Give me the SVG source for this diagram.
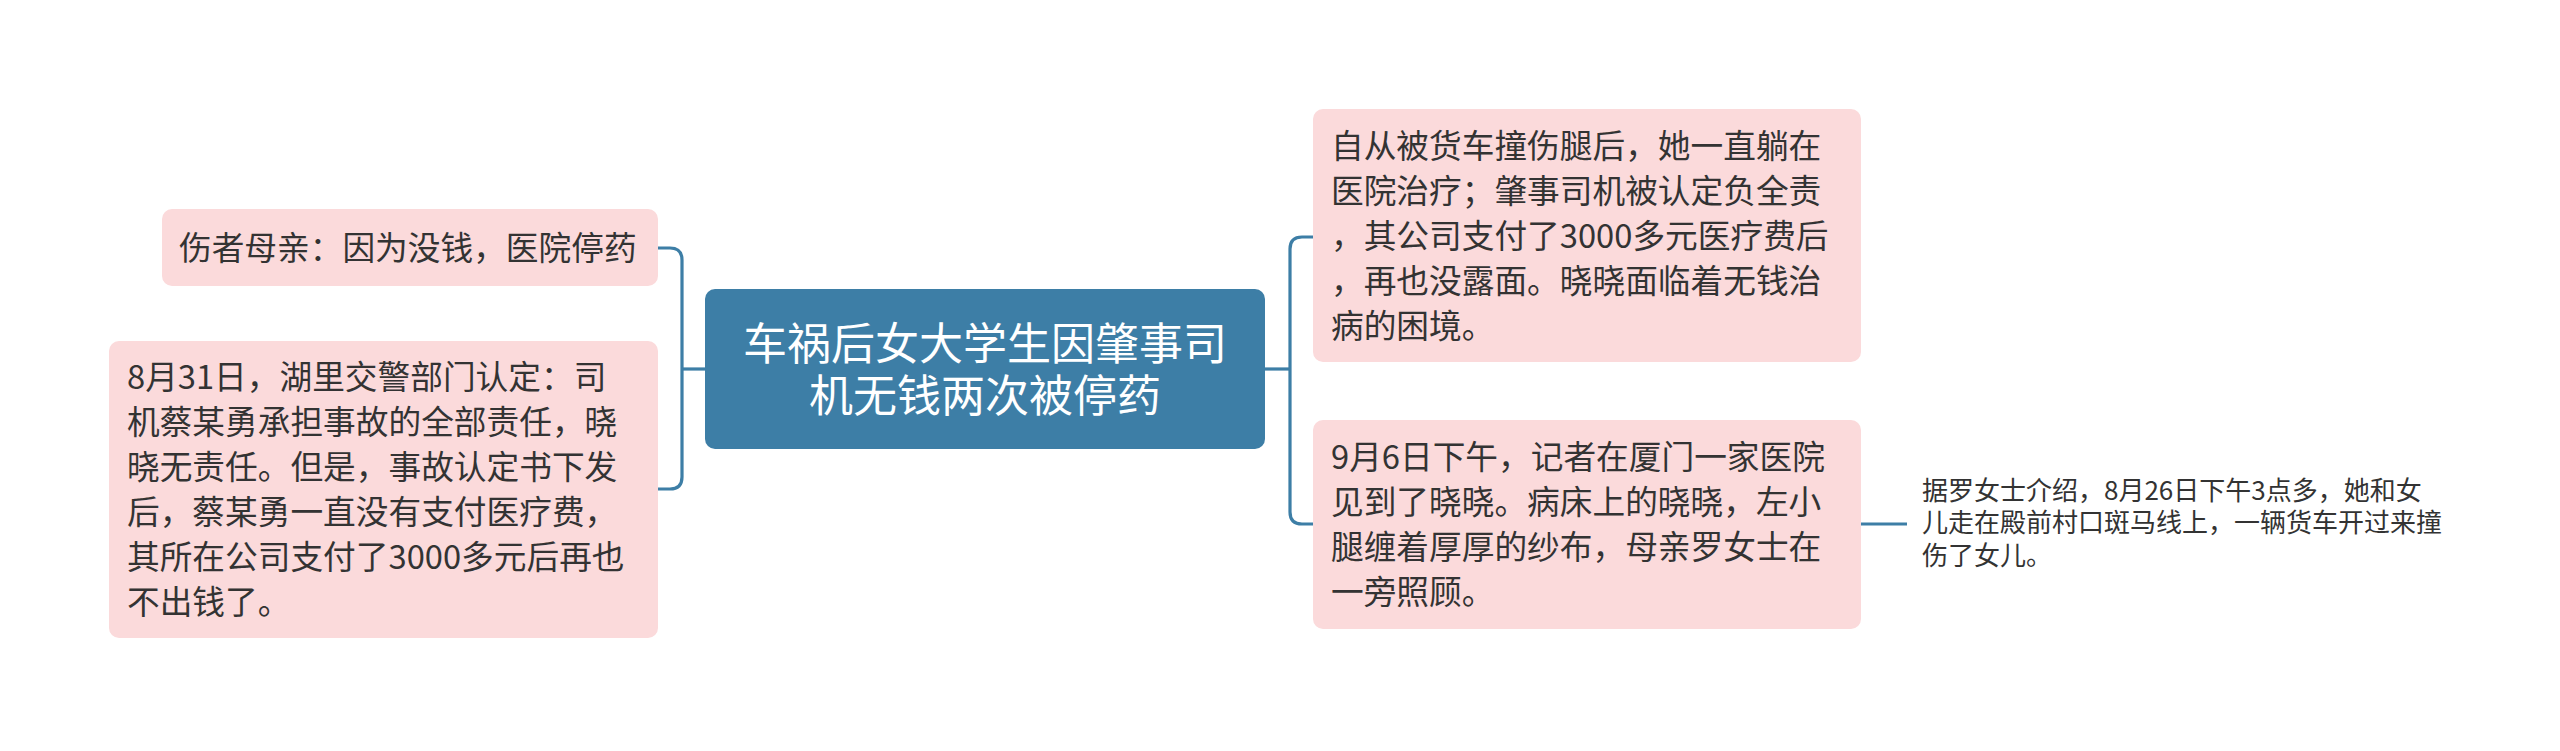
<svg xmlns="http://www.w3.org/2000/svg" width="2560" height="751" viewBox="0 0 2560 751">
<style>
.pink{fill:#FBDADB;}
.root{fill:#3D7EA6;}
.t{font-family:"Noto Sans CJK SC","Noto Sans",sans-serif;font-size:32.7px;fill:#333333;}
.rt{font-family:"Noto Sans CJK SC","Noto Sans",sans-serif;font-size:44px;fill:#FFFFFF;text-anchor:middle;}
.lt{font-family:"Noto Sans CJK SC","Noto Sans",sans-serif;font-size:26px;fill:#333333;}
.c{fill:none;stroke:#3D7EA6;stroke-width:3.2;}
</style>
<rect width="2560" height="751" fill="#FFFFFF"/>
<g id="connectors">
<path class="c" d="M705,369 H682"/>
<path class="c" d="M658,248 H670 Q682,248 682,260 V477 Q682,489 670,489 H658"/>
<path class="c" d="M1265,369 H1290"/>
<path class="c" d="M1313,237 H1302 Q1290,237 1290,249 V512 Q1290,524 1302,524 H1313"/>
<path class="c" d="M1861,524 H1907"/>
</g>
<g id="root">
<rect class="root" x="705" y="289" width="560" height="160" rx="10"/>
<text class="rt" x="985" y="360">车祸后女大学生因肇事司</text>
<text class="rt" x="985" y="412">机无钱两次被停药</text>
</g>
<g id="left1">
<rect class="pink" x="162" y="209" width="496" height="77" rx="10"/>
<text class="t" x="179" y="260">伤者母亲：因为没钱，医院停药</text>
</g>
<g id="left2">
<rect class="pink" x="109" y="341" width="549" height="297" rx="10"/>
<text class="t" x="127"><tspan x="127" y="389">8月31日，湖里交警部门认定：司</tspan><tspan x="127" y="434">机蔡某勇承担事故的全部责任，晓</tspan><tspan x="127" y="479">晓无责任。但是，事故认定书下发</tspan><tspan x="127" y="524">后，蔡某勇一直没有支付医疗费，</tspan><tspan x="127" y="569">其所在公司支付了3000多元后再也</tspan><tspan x="127" y="614">不出钱了。</tspan></text>
</g>
<g id="right1">
<rect class="pink" x="1313" y="109" width="548" height="253" rx="10"/>
<text class="t"><tspan x="1331" y="158">自从被货车撞伤腿后，她一直躺在</tspan><tspan x="1331" y="203">医院治疗；肇事司机被认定负全责</tspan><tspan x="1331" y="248">，其公司支付了3000多元医疗费后</tspan><tspan x="1331" y="293">，再也没露面。晓晓面临着无钱治</tspan><tspan x="1331" y="338">病的困境。</tspan></text>
</g>
<g id="right2">
<rect class="pink" x="1313" y="420" width="548" height="209" rx="10"/>
<text class="t"><tspan x="1331" y="469">9月6日下午，记者在厦门一家医院</tspan><tspan x="1331" y="514">见到了晓晓。病床上的晓晓，左小</tspan><tspan x="1331" y="559">腿缠着厚厚的纱布，母亲罗女士在</tspan><tspan x="1331" y="604">一旁照顾。</tspan></text>
</g>
<g id="leaf">
<text class="lt"><tspan x="1922" y="500">据罗女士介绍，8月26日下午3点多，她和女</tspan><tspan x="1922" y="532">儿走在殿前村口斑马线上，一辆货车开过来撞</tspan><tspan x="1922" y="565">伤了女儿。</tspan></text>
</g>
</svg>
